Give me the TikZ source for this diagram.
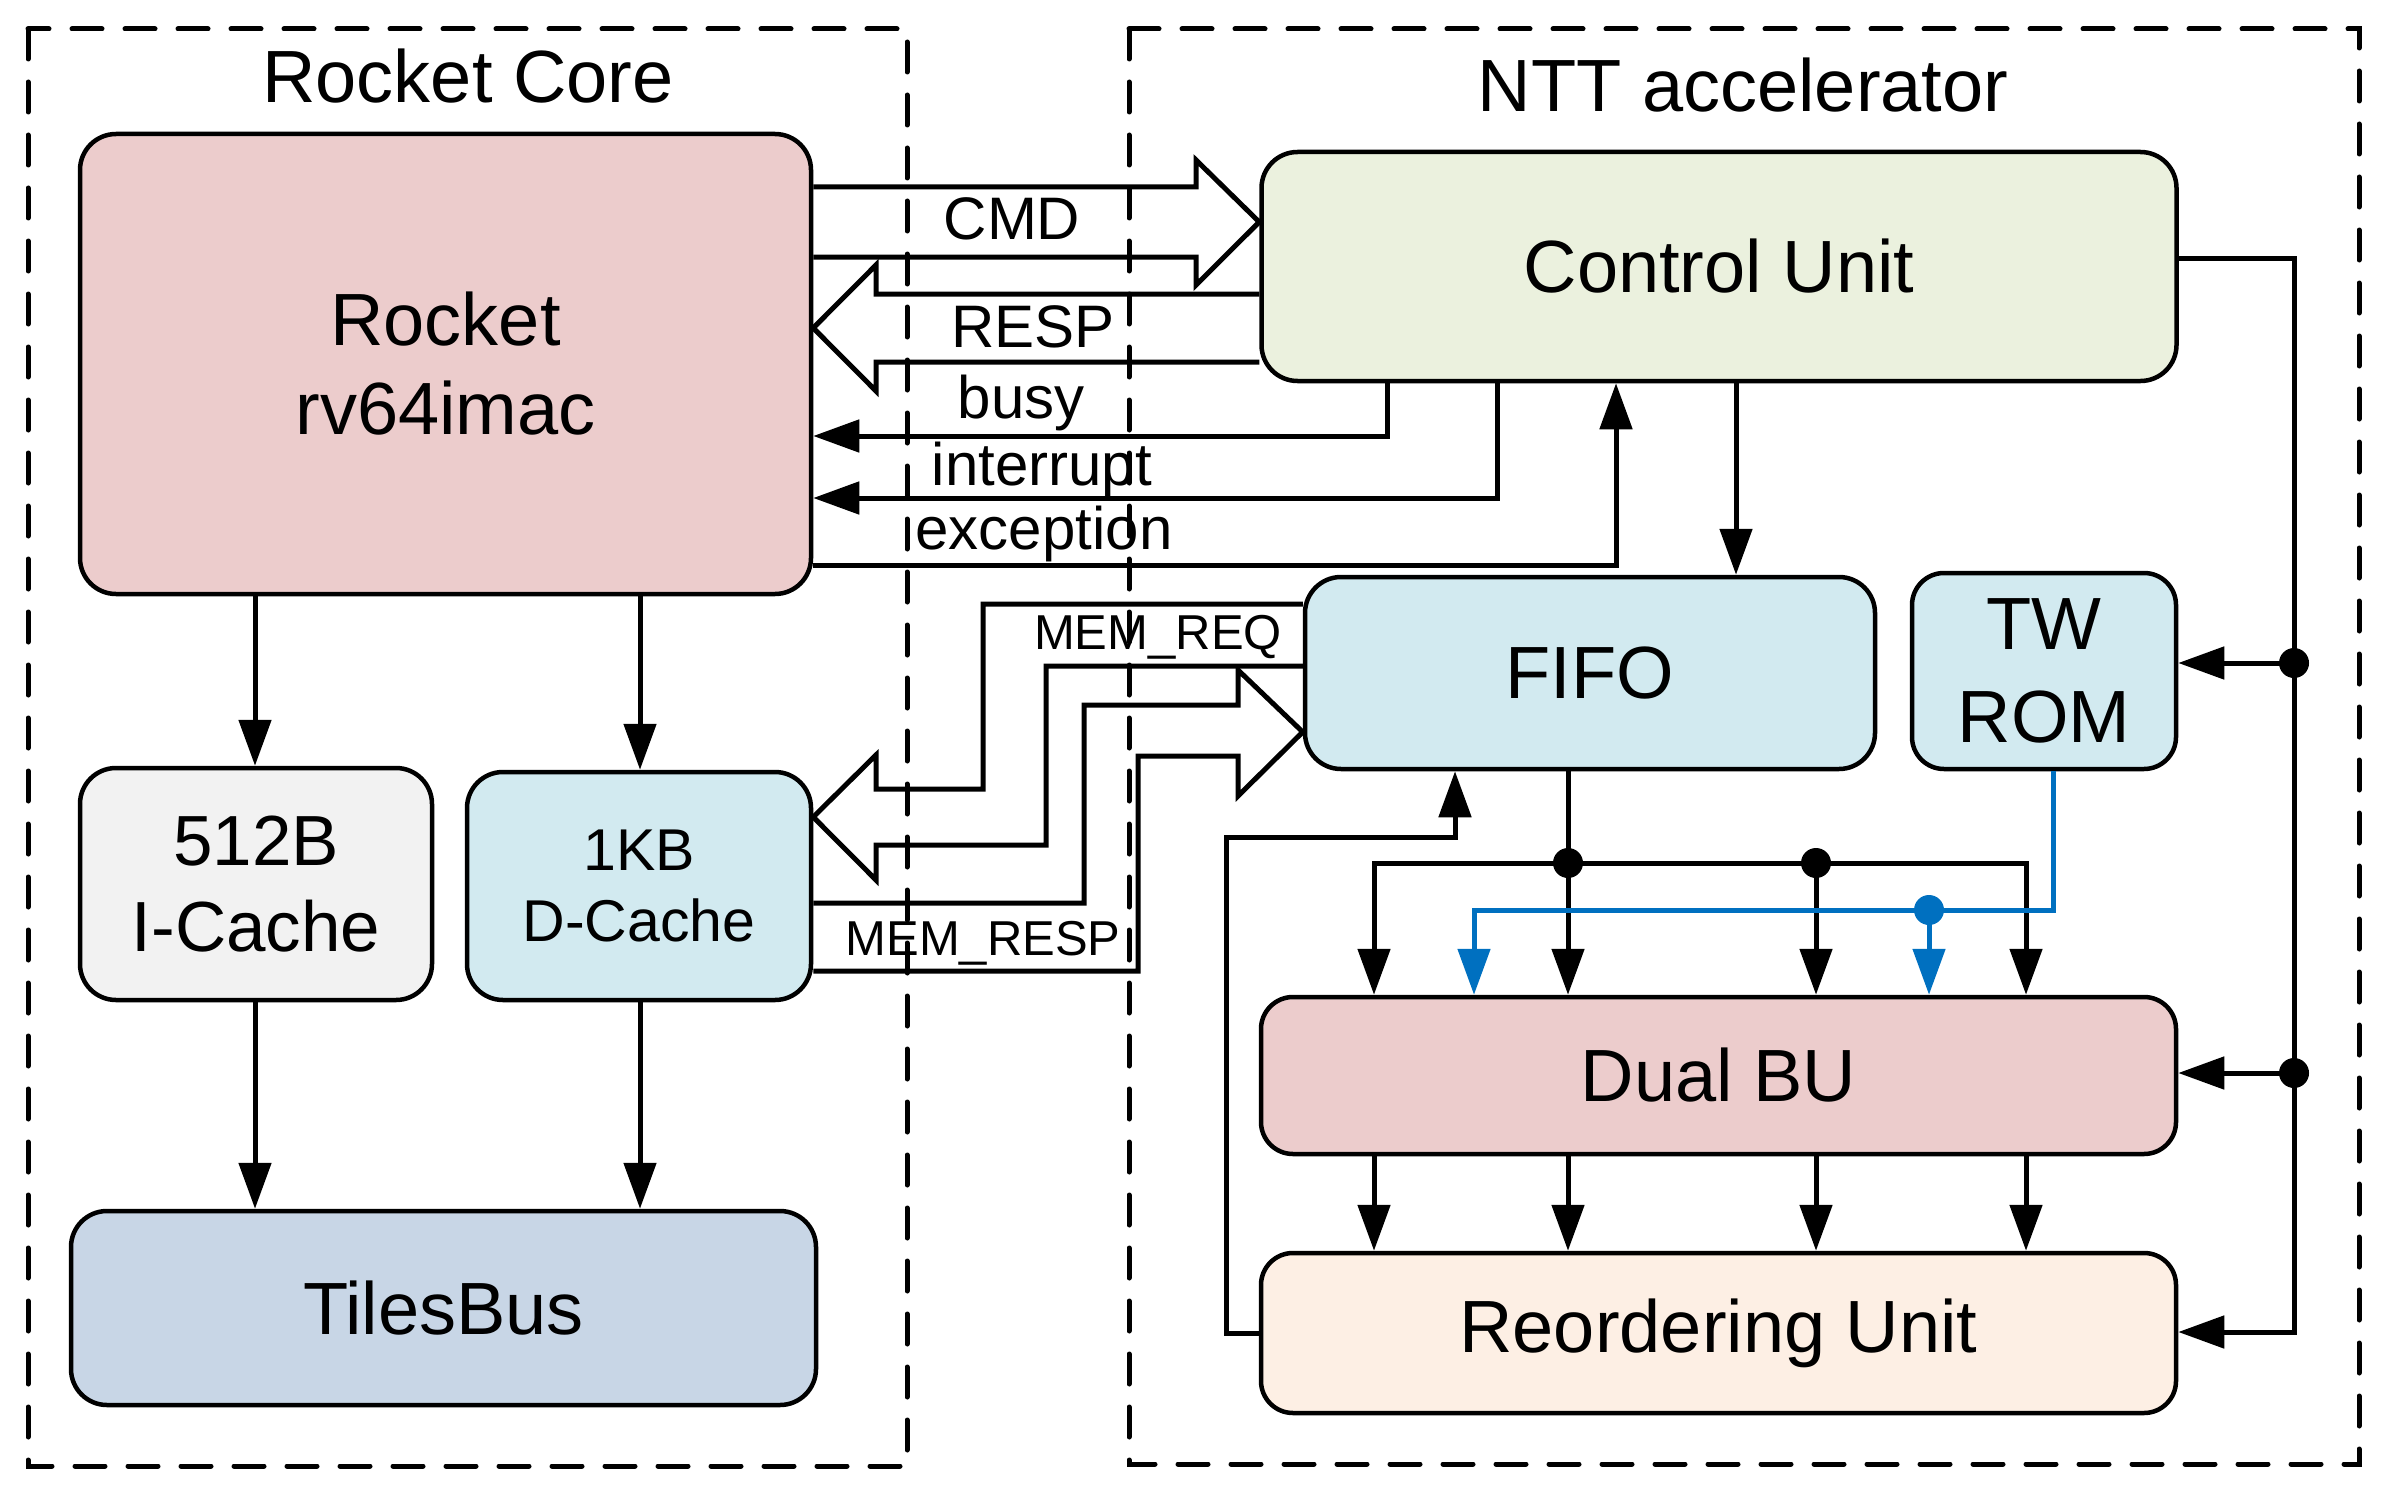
\documentclass[tikz,border=0pt]{standalone}
\usepackage{fontspec}
\setmainfont{Liberation Sans}
\usetikzlibrary{arrows.meta}
\definecolor{rocketc}{RGB}{236,204,204}
\definecolor{cuc}{RGB}{235,241,222}
\definecolor{lbluec}{RGB}{210,234,240}
\definecolor{greyc}{RGB}{242,242,242}
\definecolor{tilesc}{RGB}{200,214,230}
\definecolor{reorderc}{RGB}{253,239,228}
\definecolor{wireblue}{RGB}{0,112,192}
\newcommand\fsMain{\fontsize{74pt}{89pt}\selectfont}
\newcommand\fsTw{\fontsize{74pt}{93pt}\selectfont}
\newcommand\fsCache{\fontsize{71pt}{86pt}\selectfont}
\newcommand\fsDc{\fontsize{59pt}{71pt}\selectfont}
\newcommand\fsLbl{\fontsize{60pt}{72pt}\selectfont}
\newcommand\fsMem{\fontsize{49pt}{59pt}\selectfont}
\begin{document}
\begin{tikzpicture}[x=1pt,y=-1pt,
  box/.style={draw, line width=4.5pt, rounded corners=36pt, align=center, inner sep=0pt, font=\fsMain},
  wire/.style={line width=5pt},
  arr/.style={line width=5pt, -{Triangle[length=46pt,width=32pt]}},
  barr/.style={line width=5pt, draw=wireblue, -{Triangle[length=46pt,width=32pt]}},
  hollow/.style={line width=5pt, line join=miter},
  memw/.style={line width=5pt, line join=miter},
  frame/.style={line width=5pt, line cap=round, dash pattern=on 30pt off 23pt},
  lbl/.style={anchor=base, inner sep=0pt, font=\fsLbl},
  title/.style={anchor=base, inner sep=0pt, font=\fsMain}]
\useasboundingbox (0,0) rectangle (2390,1490);
% frames
\draw[frame] (28,29) rectangle (907,1466);
\draw[frame] (1129,29) rectangle (2359,1464);
\node[title] (t1) at (468,103) {Rocket Core};
\node[title] (t2) at (1743,112) {NTT accelerator};
% blocks
\node[box, fill=rocketc, minimum width=731pt, minimum height=460pt] (rocket) at (445.5,364) {Rocket\\rv64imac};
\node[box, fill=greyc, font=\fsCache, minimum width=352pt, minimum height=232pt] (icache) at (256,884) {512B\\I-Cache};
\node[box, fill=lbluec, font=\fsDc, minimum width=344pt, minimum height=228pt] (dcache) at (639,886) {1KB\\D-Cache};
\node[box, fill=tilesc, minimum width=745pt, minimum height=194pt] (tiles) at (443.5,1308) {TilesBus};
\node[box, fill=cuc, minimum width=915pt, minimum height=229pt] (cu) at (1719,266.5) {Control Unit};
\node[box, fill=lbluec, minimum width=570pt, minimum height=192pt] (fifo) at (1590,673) {FIFO};
\node[box, fill=lbluec, font=\fsTw, rounded corners=32pt, minimum width=264pt, minimum height=196pt] (twrom) at (2044,671) {TW\\ROM};
\node[box, fill=rocketc, rounded corners=32pt, minimum width=915pt, minimum height=157pt] (dualbu) at (1718.5,1075.5) {Dual BU};
\node[box, fill=reorderc, rounded corners=32pt, minimum width=915pt, minimum height=160pt] (reorder) at (1718.5,1333) {Reordering Unit};
% rocket core arrows
\draw[arr] (255,0 |- rocket.south) -- (255,0 |- icache.north);
\draw[arr] (640,0 |- rocket.south) -- (640,0 |- dcache.north);
\draw[arr] (255,0 |- icache.south) -- (255,0 |- tiles.north);
\draw[arr] (640,0 |- dcache.south) -- (640,0 |- tiles.north);
% CMD
\draw[hollow] (rocket.east |- 0,187) -- (1196,187) -- (1196,160) -- (cu.west |- 0,222) -- (1196,285) -- (1196,257) -- (rocket.east |- 0,257);
% RESP
\draw[hollow] (cu.west |- 0,294) -- (876,294) -- (876,265) -- (rocket.east |- 0,328) -- (876,391) -- (876,362) -- (cu.west |- 0,362);
% busy / interrupt / exception
\draw[arr] (1387,0 |- cu.south) |- (rocket.east |- 0,436);
\draw[arr] (1497,0 |- cu.south) |- (rocket.east |- 0,498);
\draw[arr] (rocket.east |- 0,565) -| (1616,0 |- cu.south);
% labels
\node[lbl] (lcmd) at (1012,240) {CMD};
\node[lbl] (lresp) at (1033,347) {RESP};
\node[lbl] (lbusy) at (1021,418) {busy};
\node[lbl] (lint) at (1042,485) {interrupt};
\node[lbl] (lexc) at (1044,549) {exception};
% CU -> FIFO
\draw[arr] (1736,0 |- cu.south) -- (1736,0 |- fifo.north);
% control bus on right
\coordinate (j1) at (2294,663);
\coordinate (j2) at (2294,1073);
\draw[arr] (cu.east |- 0,258) -| (2294,1332) -- (reorder.east |- 0,1332);
\draw[arr] (j1) -- (twrom.east |- j1);
\draw[arr] (j2) -- (dualbu.east |- j2);
\fill (j1) circle (15pt);
\fill (j2) circle (15pt);
% FIFO fan-out
\coordinate (f1) at (1568,863);
\coordinate (f2) at (1816,863);
\draw[wire] (1568,0 |- fifo.south) -- (f1);
\draw[wire] (f1) -- (f2);
\draw[arr] (f1) -| (1374,0 |- dualbu.north);
\draw[arr] (f2) -| (2026,0 |- dualbu.north);
\draw[arr] (f1) -- (f1 |- dualbu.north);
\draw[arr] (f2) -- (f2 |- dualbu.north);
\fill (f1) circle (15pt);
\fill (f2) circle (15pt);
% TW ROM blue
\coordinate (b1) at (1929,910);
\draw[barr] (2053,0 |- twrom.south) |- (1474,910) -- (1474,0 |- dualbu.north);
\draw[barr] (b1) -- (b1 |- dualbu.north);
\fill[wireblue] (b1) circle (15pt);
% Dual BU -> Reorder
\foreach \xx in {1374,1568,1816,2026} \draw[arr] (\xx,0 |- dualbu.south) -- (\xx,0 |- reorder.north);
% feedback
\draw[arr] (reorder.west) -| (1226,837) -| (1455,0 |- fifo.south);
% MEM_REQ
\draw[memw] (fifo.west |- 0,604) -- (983,604) -- (983,789) -- (876,789) -- (876,755) -- (dcache.east |- 0,817) -- (876,880) -- (876,845) -- (1046,845) -- (1046,666) -- (fifo.west |- 0,666);
% MEM_RESP
\draw[memw] (dcache.east |- 0,903) -- (1084,903) -- (1084,705) -- (1238,705) -- (1238,670) -- (fifo.west |- 0,732) -- (1238,796) -- (1238,756) -- (1138,756) -- (1138,971) -- (dcache.east |- 0,971);
\node[lbl, font=\fsMem] (lmreq) at (1158,649) {MEM\_REQ};
\node[lbl, font=\fsMem] (lmresp) at (983,955) {MEM\_RESP};
\end{tikzpicture}
\end{document}
